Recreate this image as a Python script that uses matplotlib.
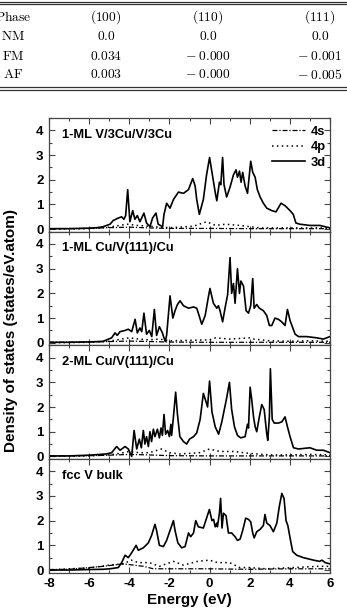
import matplotlib
matplotlib.use("Agg")
import matplotlib.pyplot as plt
from matplotlib.ticker import MultipleLocator

# ---------------- table data ----------------
table_header = ["Phase", "(100)", "(110)", "(111)"]
table_phases = ["NM", "FM", "AF"]
table_100 = ["0.0", "0.034", "0.003"]
table_110 = ["0.0", "-0.000", "-0.000"]
table_111 = ["0.0", "-0.001", "-0.005"]

# ---------------- DOS data ----------------
panel_labels = ["1-ML V/3Cu/V/3Cu", "1-ML Cu/V(111)/Cu", "2-ML Cu/V(111)/Cu", "fcc V bulk"]
legend_labels = ["4s", "4p", "3d"]

# panel 1: 1-ML V/3Cu/V/3Cu
p1_d_E = [-8.0, -7.0, -6.0, -5.6, -5.3, -4.96, -4.8, -4.55, -4.38, -4.27, -4.18, -4.08, -3.97, -3.83,
          -3.72, -3.6, -3.47, -3.27, -3.14, -2.97, -2.84, -2.67, -2.56, -2.34, -2.27, -2.14, -1.97,
          -1.8, -1.55, -1.3, -1.05, -0.84, -0.72, -0.64, -0.51, -0.31, -0.15, 0.0, 0.12, 0.28, 0.36,
          0.49, 0.56, 0.65, 0.72, 0.85, 1.02, 1.19, 1.32, 1.39, 1.49, 1.57, 1.65, 1.77, 1.89, 2.05,
          2.15, 2.27, 2.38, 2.52, 2.68, 2.85, 3.1, 3.31, 3.56, 3.76, 4.01, 4.17, 4.3, 4.5, 5.0, 5.5, 6.0]
p1_d_v = [0.02, 0.02, 0.04, 0.06, 0.1, 0.2, 0.35, 0.45, 0.5, 0.4, 0.55, 1.6, 0.3, 0.75,
          0.4, 0.55, 0.3, 0.65, 0.25, 0.1, 0.45, 0.65, 0.2, 0.1, 0.6, 1.05, 0.85,
          1.2, 1.5, 1.45, 1.6, 2.05, 1.75, 1.2, 0.6, 1.2, 2.2, 2.9, 2.3, 1.5, 1.15,
          1.9, 1.8, 2.9, 1.8, 1.3, 1.7, 2.2, 2.4, 2.1, 2.35, 1.9, 2.3, 1.75, 1.45, 2.75,
          2.3, 2.1, 1.6, 1.3, 1.05, 0.85, 0.75, 0.7, 1.05, 0.95, 0.75, 0.6, 0.25, 0.2, 0.15, 0.15, 0.05]
p1_p_E = [-8.0, -6.0, -5.0, -4.5, -4.1, -3.6, -3.0, -2.5, -2.0, -1.5, -0.8, -0.15, 0.3, 0.8, 1.5, 2.5, 4.0, 6.0]
p1_p_v = [0.0, 0.02, 0.08, 0.15, 0.2, 0.15, 0.12, 0.08, 0.06, 0.08, 0.12, 0.3, 0.15, 0.2, 0.15, 0.05, 0.05, 0.05]
p1_s_E = [-8.0, -6.0, -5.0, -4.0, -3.0, -2.0, 0.0, 2.0, 4.0, 6.0]
p1_s_v = [0.02, 0.03, 0.06, 0.08, 0.05, 0.03, 0.03, 0.02, 0.02, 0.02]

# panel 2: 1-ML Cu/V(111)/Cu
p2_d_E = [-8.0, -7.0, -5.8, -5.3, -4.88, -4.71, -4.6, -4.46, -4.21, -4.05, -3.88, -3.71, -3.6, -3.47,
          -3.38, -3.27, -3.14, -3.0, -2.88, -2.75, -2.64, -2.5, -2.35, -2.21, -2.14, -1.97, -1.83,
          -1.72, -1.6, -1.47, -1.3, -1.05, -0.8, -0.64, -0.56, -0.39, -0.22, -0.05, 0.02, 0.19,
          0.36, 0.44, 0.52, 0.65, 0.77, 0.9, 1.02, 1.1, 1.19, 1.27, 1.39, 1.49, 1.56, 1.69, 1.82,
          1.94, 2.05, 2.15, 2.22, 2.35, 2.48, 2.68, 2.85, 2.98, 3.1, 3.26, 3.43, 3.59, 3.76, 3.88,
          4.01, 4.26, 4.43, 4.84, 5.34, 5.67, 6.0]
p2_d_v = [0.02, 0.02, 0.04, 0.06, 0.2, 0.4, 0.3, 0.45, 0.5, 0.55, 0.45, 0.95, 0.4, 0.6,
          0.45, 1.2, 0.35, 0.5, 0.25, 1.35, 0.3, 0.65, 0.4, 0.05, 0.3, 1.9, 1.0,
          1.3, 1.55, 1.7, 1.5, 1.4, 1.45, 1.4, 1.2, 0.75, 1.1, 1.9, 2.2, 1.6,
          1.4, 1.5, 1.3, 0.85, 1.4, 1.95, 3.45, 2.0, 2.4, 1.6, 3.0, 2.0, 2.5, 2.3, 1.3,
          1.2, 1.5, 2.6, 1.4, 1.55, 1.4, 1.3, 1.1, 0.7, 0.7, 1.0, 0.95, 0.85, 0.7, 1.35,
          0.9, 0.35, 0.25, 0.25, 0.2, 0.15, 0.25]
p2_p_E = [-8.0, -6.0, -5.0, -4.4, -4.0, -3.5, -3.0, -2.5, -2.0, -1.0, 0.0, 0.3, 1.0, 2.0, 2.2, 3.0, 4.0, 5.0, 6.0]
p2_p_v = [0.0, 0.02, 0.06, 0.15, 0.2, 0.15, 0.12, 0.15, 0.08, 0.1, 0.12, 0.2, 0.15, 0.2, 0.15, 0.08, 0.06, 0.08, 0.06]
p2_s_E = [-8.0, -6.0, -5.0, -4.0, -3.0, -2.0, 0.0, 2.0, 4.0, 6.0]
p2_s_v = [0.02, 0.03, 0.05, 0.07, 0.05, 0.03, 0.02, 0.02, 0.02, 0.02]

# panel 3: 2-ML Cu/V(111)/Cu
p3_d_E = [-8.0, -7.0, -6.0, -5.13, -4.88, -4.63, -4.46, -4.21, -4.05, -3.88, -3.76, -3.63, -3.5, -3.4,
          -3.3, -3.22, -3.14, -3.05, -2.97, -2.89, -2.8, -2.72, -2.6, -2.5, -2.42, -2.35, -2.27, -2.19,
          -2.09, -2.0, -1.93, -1.89, -1.8, -1.69, -1.6, -1.48, -1.3, -1.14, -1.0, -0.8, -0.64,
          -0.47, -0.31, -0.17, -0.1, 0.0, 0.12, 0.28, 0.45, 0.61, 0.86, 0.99, 1.1, 1.24, 1.39,
          1.55, 1.77, 1.89, 1.94, 2.02, 2.1, 2.19, 2.27, 2.35, 2.48, 2.6, 2.72, 2.85, 2.9, 2.98,
          3.03, 3.12, 3.22, 3.43, 3.6, 3.76, 3.88, 4.01, 4.18, 4.43, 5.0, 5.34, 5.67, 6.0]
p3_d_v = [0.02, 0.02, 0.05, 0.1, 0.15, 0.4, 0.25, 0.4, 0.3, 0.0, 1.05, 0.3, 0.7, 0.35,
          1.05, 0.5, 0.8, 0.4, 1.0, 0.6, 1.1, 0.8, 1.1, 0.75, 1.15, 0.85, 1.7, 0.9,
          1.05, 0.8, 1.3, 0.85, 1.6, 2.6, 1.7, 0.8, 0.6, 0.5, 0.7, 0.8, 0.95,
          1.5, 2.55, 2.2, 2.0, 3.05, 1.8, 1.2, 0.9, 1.4, 2.4, 3.0, 1.9, 1.2, 0.85,
          0.75, 0.8, 1.3, 1.15, 2.8, 2.3, 1.6, 1.2, 1.0, 1.6, 2.1, 1.9, 0.9, 0.65, 1.6,
          3.55, 1.5, 1.35, 1.35, 1.4, 1.6, 1.2, 0.8, 0.35, 0.3, 0.35, 0.25, 0.25, 0.15]
p3_p_E = [-8.0, -6.0, -5.0, -4.5, -4.0, -3.5, -3.0, -2.4, -2.0, -1.5, -0.5, 0.0, 0.5, 1.2, 2.0, 3.0, 4.0, 5.0, 6.0]
p3_p_v = [0.0, 0.02, 0.06, 0.12, 0.2, 0.15, 0.15, 0.3, 0.15, 0.1, 0.15, 0.3, 0.2, 0.2, 0.12, 0.06, 0.06, 0.08, 0.06]
p3_s_E = [-8.0, -6.0, -5.0, -4.0, -3.0, -2.0, 0.0, 2.0, 4.0, 6.0]
p3_s_v = [0.02, 0.03, 0.05, 0.08, 0.06, 0.03, 0.02, 0.02, 0.02, 0.02]

# panel 4: fcc V bulk
p4_d_E = [-8.0, -7.0, -6.0, -5.3, -4.96, -4.55, -4.38, -4.21, -4.05, -3.88, -3.66, -3.55, -3.3, -3.05,
          -2.89, -2.72, -2.64, -2.5, -2.3, -2.14, -1.97, -1.8, -1.72, -1.58, -1.39, -1.22, -1.05,
          -0.94, -0.8, -0.69, -0.56, -0.31, -0.15, -0.01, 0.12, 0.2, 0.28, 0.36, 0.39, 0.49, 0.55,
          0.62, 0.69, 0.82, 0.94, 1.1, 1.27, 1.39, 1.52, 1.65, 1.8, 1.94, 2.05, 2.15, 2.22, 2.35,
          2.52, 2.68, 2.76, 2.85, 3.01, 3.18, 3.35, 3.48, 3.6, 3.71, 3.81, 3.9, 4.01, 4.14, 4.34,
          4.68, 5.18, 5.48, 5.6, 5.76, 6.0]
p4_d_v = [0.0, 0.0, 0.02, 0.03, 0.05, 0.1, 0.3, 0.6, 0.5, 0.7, 1.0, 0.8, 0.9, 1.1,
          1.4, 1.85, 1.6, 1.0, 0.95, 1.2, 1.6, 2.0, 1.6, 1.1, 0.9, 0.95, 1.5,
          1.35, 1.5, 2.0, 1.75, 1.7, 2.1, 2.45, 2.0, 2.05, 1.75, 1.9, 1.75, 2.3, 2.9,
          1.7, 2.3, 2.2, 1.5, 1.5, 1.35, 1.2, 1.25, 1.6, 2.1, 2.05, 1.95, 1.5, 1.3, 1.55,
          1.65, 1.8, 2.25, 1.9, 1.8, 1.55, 1.9, 2.6, 3.1, 2.9, 2.0, 1.8, 1.3, 0.75, 0.6,
          0.5, 0.4, 0.35, 0.4, 0.3, 0.25]
p4_p_E = [-8.0, -7.0, -6.0, -5.0, -4.3, -3.9, -3.55, -3.0, -2.5, -1.8, -1.3, -0.6, 0.0, 0.4, 1.0, 1.5, 2.0, 2.8, 4.2, 5.4, 6.0]
p4_p_v = [0.0, 0.05, 0.08, 0.2, 0.25, 0.4, 0.3, 0.3, 0.15, 0.35, 0.2, 0.35, 0.4, 0.3, 0.3, 0.1, 0.1, 0.05, 0.1, 0.15, 0.15]
p4_s_E = [-8.0, -7.0, -6.0, -5.3, -4.8, -4.3, -3.8, -3.3, -2.8, -2.3, 0.0, 2.0, 4.0, 6.0]
p4_s_v = [0.02, 0.03, 0.1, 0.15, 0.2, 0.25, 0.2, 0.15, 0.05, 0.05, 0.05, 0.03, 0.05, 0.05]

panels = [
    (p1_s_E, p1_s_v, p1_p_E, p1_p_v, p1_d_E, p1_d_v),
    (p2_s_E, p2_s_v, p2_p_E, p2_p_v, p2_d_E, p2_d_v),
    (p3_s_E, p3_s_v, p3_p_E, p3_p_v, p3_d_E, p3_d_v),
    (p4_s_E, p4_s_v, p4_p_E, p4_p_v, p4_d_E, p4_d_v),
]

plt.rcParams['font.family'] = ['Liberation Sans', 'DejaVu Sans']
plt.rcParams['mathtext.fontset'] = 'cm'

W, H = 347, 609
fig = plt.figure(figsize=(W / 100, H / 100), dpi=100)

# ---------------- table ----------------
def fx(px):
    return px / W

def fy(py):
    return 1 - py / H

tab_fs = 9.7
col_x = [13, 106, 208, 320]
row_y = [17, 36, 56, 75]

def cm(s):
    if s.startswith('-'):
        return r'$-\;\mathrm{' + s[1:] + '}$'
    return r'$\mathrm{' + s + '}$'

for cx, h in zip(col_x, table_header):
    fig.text(fx(cx), fy(row_y[0]), cm(h), ha='center', va='center', fontsize=tab_fs)
cols = [table_phases, table_100, table_110, table_111]
for ci, col in enumerate(cols):
    for ri, val in enumerate(col):
        fig.text(fx(col_x[ci]), fy(row_y[ri + 1]), cm(val), ha='center', va='center', fontsize=tab_fs)

for py in [1.8, 4.0, 87.3, 89.5]:
    fig.add_artist(plt.Line2D([0, 1], [fy(py), fy(py)], color='#333333', lw=0.9, transform=fig.transFigure))

# ---------------- DOS panels ----------------
left, right = 49 / W, 330 / W
top_px, bot_px = 118, 572.5
ph = (bot_px - top_px) / 4
axes = []
for i in range(4):
    t = top_px + i * ph
    ax = fig.add_axes([left, fy(t + ph), right - left, ph / H])
    axes.append(ax)

tick_fs = 9.5
for i, ax in enumerate(axes):
    sE, sv, pE, pv, dE, dv = panels[i]
    l1, = ax.plot(sE, sv, color='black', lw=0.9, ls=(0, (4, 1.5, 1, 1.5)))
    l2, = ax.plot(pE, pv, color='black', lw=1.1, ls=(0, (1, 2.2)))
    l3, = ax.plot(dE, dv, color='black', lw=1.2, ls='-')
    ax.set_xlim(-8, 6)
    ax.set_ylim(-0.1, 4.5)
    ax.xaxis.set_major_locator(MultipleLocator(2))
    ax.xaxis.set_minor_locator(MultipleLocator(1))
    ax.yaxis.set_major_locator(MultipleLocator(1))
    ax.yaxis.set_minor_locator(MultipleLocator(0.5))
    ax.tick_params(which='both', direction='in', top=True, right=True, width=0.8, color='#444444')
    ax.tick_params(which='major', length=4, pad=4)
    ax.tick_params(which='minor', length=2.5)
    for sp in ax.spines.values():
        sp.set_linewidth(0.9)
        sp.set_color('#444444')
    ax.set_yticks([0, 1, 2, 3, 4])
    ax.set_yticklabels(['0', '1', '2', '3', '4'], fontweight='bold', fontsize=tick_fs)
    if i < 3:
        ax.tick_params(labelbottom=False)
    else:
        ax.set_xticks([-8, -6, -4, -2, 0, 2, 4, 6])
        ax.set_xticklabels(['-8', '-6', '-4', '-2', '0', '2', '4', '6'], fontweight='bold', fontsize=tick_fs)
    ax.text(-7.35, 3.82, panel_labels[i], fontsize=9.3, fontweight='bold', va='center', ha='left')
    if i == 0:
        ax.legend([l1, l2, l3], legend_labels, loc='upper right', bbox_to_anchor=(0.985, 0.93),
                  frameon=False, handlelength=2.6, handletextpad=0.4, labelspacing=0.25,
                  borderpad=0, borderaxespad=0, prop={'weight': 'bold', 'size': 9.3})

axes[-1].set_xlabel('Energy (eV)', fontsize=11, fontweight='bold', labelpad=2)
fig.text(fx(11), fy(330), 'Density of states (states/eV.atom)', rotation=90,
         ha='center', va='center', fontsize=11, fontweight='bold')

fig.savefig('out.png', dpi=100)
